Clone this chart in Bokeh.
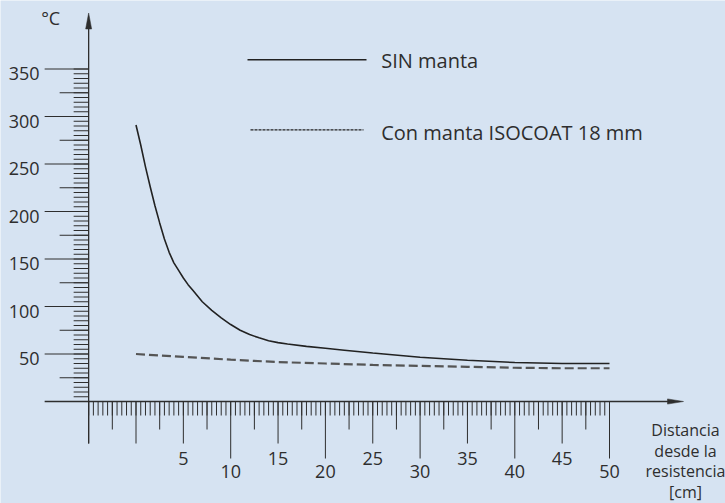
import numpy as np
from bokeh.plotting import figure
from bokeh.models import Range1d
from bokeh.core.properties import value
from bokeh.embed import file_html
from bokeh.resources import INLINE

# ---------------- data ----------------
dist_sin = [0, 0.5, 1, 1.5, 2, 2.5, 3, 3.5, 4, 4.5, 5, 5.5, 6, 7, 8, 9, 10, 11, 12, 13, 14, 15, 16, 18, 20, 22, 25, 30, 35, 40, 45, 50]
temp_sin = [291, 270, 247, 226, 206, 188, 171, 157, 146, 138, 130, 123, 117, 105, 96, 88, 81, 75, 70.5, 67, 64, 62, 60.5, 58, 56, 54, 51, 46.5, 43.5, 41, 40, 40]
dist_con = [0, 5, 10, 15, 20, 25, 30, 35, 40, 45, 50]
temp_con = [50, 47, 44, 41.5, 40, 38.5, 37.5, 36.5, 35.5, 35, 35]
series_labels = ["SIN manta", "Con manta ISOCOAT 18 mm"]
y_tick_values = [50, 100, 150, 200, 250, 300, 350]
x_tick_values = [5, 10, 15, 20, 25, 30, 35, 40, 45, 50]
y_unit = "°C"
x_title_lines = ["Distancia", "desde la", "resistencia", "[cm]"]

# ---------------- layout ----------------
W, H = 725, 503
BG = "#d6e3f2"
INK = "#2e2e2e"
FONT = "Open Sans"
FS = "18px"

PX_X = 9.47     # pixels per cm
PX_Y = 0.95     # pixels per degree
X0 = 135.5      # px (from left) of x = 0
Y0 = 401.0      # px (from top) of y = 0
XA = -5.0       # x where the vertical axis stands


def dx(px):
    return px / PX_X


def dy(px):
    return px / PX_Y


def xd(px_from_left):
    return (px_from_left - X0) / PX_X


def yd(px_from_top):
    return (Y0 - px_from_top) / PX_Y


p = figure(width=W, height=H,
           x_range=Range1d(xd(0), xd(W)),
           y_range=Range1d(yd(H), yd(0)),
           output_backend="svg", toolbar_location=None,
           x_axis_location=None, y_axis_location=None,
           min_border=0, outline_line_color=None,
           background_fill_color=BG, border_fill_color=BG)
p.grid.visible = False

# ---------------- axes (lines + arrows) ----------------
y_tip = yd(12.5)
x_tip = xd(683.0)
p.segment(x0=[XA, XA - dx(44)], y0=[-dy(42), 0], x1=[XA, x_tip - dx(14)], y1=[y_tip - dy(14), 0],
          line_color=INK, line_width=1.3)
p.patches(xs=[[XA - dx(3), XA, XA + dx(3)], [x_tip - dx(16), x_tip, x_tip - dx(16)]],
          ys=[[y_tip - dy(16), y_tip, y_tip - dy(16)], [dy(2.6), 0, -dy(2.6)]],
          fill_color=INK, line_color=INK, line_width=0.5)

# x ticks
x_max = max(x_tick_values)
x_minor = np.arange(XA, x_max + 0.001, 0.5)
x_mid = np.arange(XA + 2.5, x_max, 5.0)
odd = [v for i, v in enumerate(x_tick_values) if i % 2 == 0]
even = [v for i, v in enumerate(x_tick_values) if i % 2 == 1]
for ticks, length in [(x_minor, 14), (x_mid, 28), ([XA, 0] + odd, 42), (even, 57)]:
    t = np.asarray(ticks, dtype=float)
    p.segment(x0=t, y0=np.zeros_like(t), x1=t, y1=np.full_like(t, -dy(length)),
              line_color=INK, line_width=1)

# y ticks
y_max = max(y_tick_values)
y_minor = np.arange(5, y_max + 0.001, 5.0)
y_mid = np.arange(25, y_max, 50.0)
for ticks, length in [(y_minor, 15), (y_mid, 29), (y_tick_values, 44)]:
    t = np.asarray(ticks, dtype=float)
    p.segment(x0=np.full_like(t, XA), y0=t, x1=np.full_like(t, XA - dx(length)), y1=t,
              line_color=INK, line_width=1)

# tick labels
p.text(x=odd, y=[-dy(57)] * len(odd), text=[str(v) for v in odd],
       text_align="center", text_baseline="middle", text_font=value(FONT),
       text_font_size=FS, text_color=INK)
p.text(x=even, y=[-dy(70)] * len(even), text=[str(v) for v in even],
       text_align="center", text_baseline="middle", text_font=value(FONT),
       text_font_size=FS, text_color=INK)
p.text(x=[XA - dx(49)] * len(y_tick_values), y=[v - dy(4.5) for v in y_tick_values],
       text=[str(v) for v in y_tick_values], text_align="right", text_baseline="middle",
       text_font=value(FONT), text_font_size=FS, text_color=INK)

# axis titles
p.text(x=[XA - dx(38)], y=[yd(17.5)], text=[y_unit], text_align="center",
       text_baseline="middle", text_font=value(FONT), text_font_size=FS, text_color=INK)
p.text(x=[xd(685)] * len(x_title_lines),
       y=[yd(429.5 + 20.5 * i) for i in range(len(x_title_lines))],
       text=x_title_lines, text_align="center", text_baseline="alphabetic",
       text_font=value(FONT), text_font_size="16px", text_color=INK)

# ---------------- series ----------------
p.line(dist_sin, temp_sin, line_color="#222222", line_width=1.6)
p.line(dist_con, temp_con, line_color="#555555", line_width=2.2, line_dash="9 4")

# ---------------- key ----------------
p.segment(x0=[xd(247)], y0=[yd(59.3)], x1=[xd(366)], y1=[yd(59.3)],
          line_color="#222222", line_width=1.4)
p.segment(x0=[xd(250)], y0=[yd(129.3)], x1=[xd(363)], y1=[yd(129.3)],
          line_color="#222222", line_width=1.3, line_dash="3 1")
p.text(x=[xd(380.7)] * 2, y=[yd(59.5), yd(131.5)], text=series_labels,
       text_align="left", text_baseline="alphabetic", text_font=value(FONT),
       text_font_size="20px", text_color=INK)

html = file_html(p, INLINE, title="Temperatura")
open("out.html", "w").write(html)
